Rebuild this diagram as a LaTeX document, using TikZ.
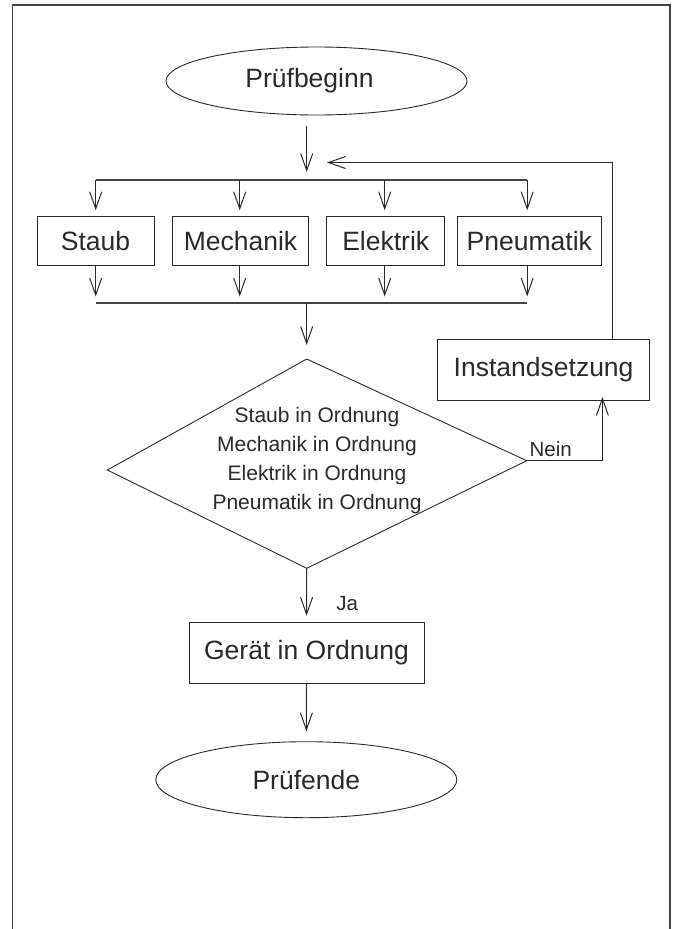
\documentclass[tikz,border=0pt]{standalone}
\usepackage{fontspec}
\setmainfont{Liberation Sans}
\usetikzlibrary{arrows.meta,shapes.geometric,calc}
\definecolor{ink}{HTML}{2A2A2A}
\definecolor{frame}{HTML}{444444}
\tikzset{
  conn/.style={draw=ink,line width=1pt},
  arr/.style={conn,-{Straight Barb[length=17pt,width=12pt]}},
  bus/.style={draw=frame,line width=1.8pt},
  box/.style={draw=ink,line width=0.9pt,rectangle,inner sep=0pt,text=ink,font=\fontsize{26.5}{30}\selectfont},
  term/.style={draw=ink,line width=0.9pt,ellipse,inner sep=0pt,text=ink,font=\fontsize{26.5}{30}\selectfont},
  lbl/.style={text=ink,inner sep=0pt,font=\fontsize{20.5}{24}\selectfont},
}
\begin{document}
\begin{tikzpicture}[x=1pt,y=-1pt]
\useasboundingbox (0,0) rectangle (676,929);
% frame
\draw[frame,line width=1.6pt] (12.3,929) -- (12.3,5) -- (670,5) -- (670,929);

% terminals
\node[term,minimum width=301pt,minimum height=68pt] (start) at (316.5,81) {};
\node[text=ink,inner sep=0pt,font=\fontsize{26.5}{30}\selectfont] (starttext) at (309.5,81) {Prüfbeginn};
\node[term,minimum width=301pt,minimum height=76pt] (stop) at (306.3,779.7) {Prüfende};

% test boxes
\node[box,minimum width=117pt,minimum height=49pt] (staub) at (95.5,241.2) {Staub};
\node[box,minimum width=135.6pt,minimum height=49pt] (mech) at (240.5,241.2) {Mechanik};
\node[box,minimum width=118pt,minimum height=49pt] (elek) at (385.7,241.2) {Elektrik};
\node[box,minimum width=144pt,minimum height=49pt] (pneu) at (529.3,241.2) {Pneumatik};

\node[box,minimum width=212.4pt,minimum height=61pt] (inst) at (543.6,369.9) {Instandsetzung};
\node[box,minimum width=235pt,minimum height=60.6pt] (ok) at (306.5,653) {Gerät in Ordnung};

% distribution bus
\coordinate (dL) at (95.7,180);
\coordinate (dR) at (527.2,180);
\coordinate (dM) at (306.7,180);
\draw[bus] (dL) -- (dR);
\coordinate (cL) at (95.7,303);
\coordinate (cR) at (527.2,303);
\coordinate (cM) at (306.7,303);
\draw[bus] (cL) -- (cR);

% arrow from start
\coordinate (sbot) at (306.7,126);
\draw[arr,shorten >=8pt] (sbot) -- (dM);

% distribution arrows
\foreach \n/\x in {staub/95.7,mech/239.7,elek/384.7,pneu/527.2}{
  \draw[arr,shorten >=6pt] (\x,180) -- (\n.north -| \x,0);
  \draw[arr,shorten >=6.5pt] (\n.south -| \x,0) -- (\x,303);
}

% diamond
\coordinate (qT) at (306.7,359);
\coordinate (qL) at (107.3,470);
\coordinate (qR) at (526.7,460.7);
\coordinate (qB) at (306.7,568.3);
\draw[ink,line width=0.9pt] (qT) -- (qR) -- (qB) -- (qL) -- cycle;
\node[text=ink,align=center,inner sep=0pt,font=\fontsize{21}{29}\selectfont] (qtext) at (317,461) {Staub in Ordnung\\Mechanik in Ordnung\\Elektrik in Ordnung\\Pneumatik in Ordnung};

\draw[arr,shorten >=14pt] (cM) -- (qT);

% yes branch
\draw[arr,shorten >=6.5pt] (qB) -- (ok.north);
\node[lbl] (ja) at (347.3,603.3) {Ja};
\draw[arr,shorten >=10pt] (ok.south) -- (stop.north);

% no branch
\coordinate (nCorner) at (602.4,460.7);
\coordinate (nTop) at (602.4,400.4);
\draw[conn] (qR) -- (nCorner);
\draw[arr,shorten >=-3.4pt] (nCorner) -- (nTop);
\node[lbl] (nein) at (550.7,449) {Nein};

% loop back
\coordinate (rTop) at (612.5,339.3);
\coordinate (rCorner) at (612.5,162.5);
\coordinate (rEnd) at (327,162.5);
\draw[arr] (rTop) -- (rCorner) -- (rEnd);
\end{tikzpicture}
\end{document}
